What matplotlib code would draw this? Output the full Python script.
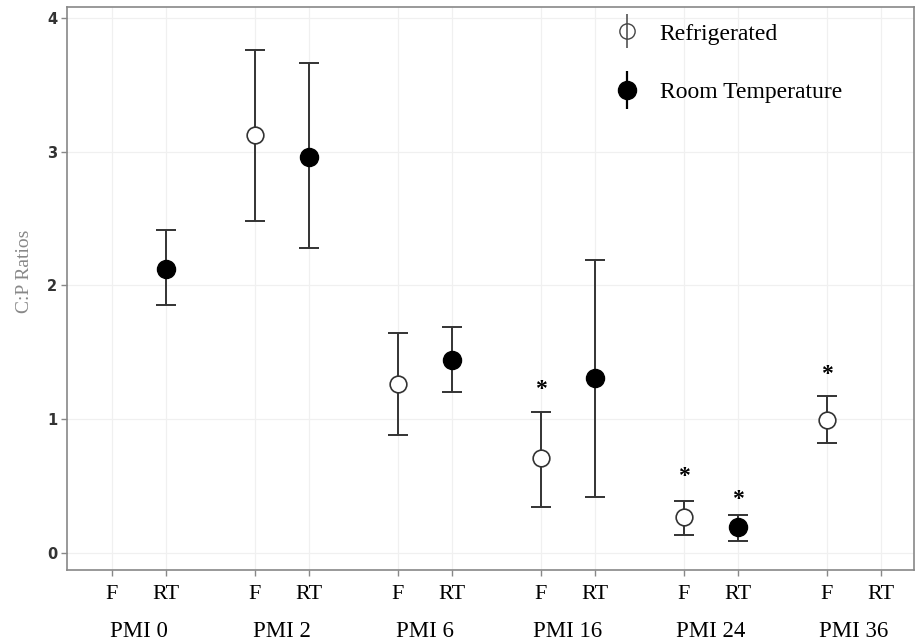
import numpy as np
import matplotlib
matplotlib.use('Agg')
from matplotlib import pyplot as plt
from matplotlib.lines import Line2D
from matplotlib.legend_handler import HandlerTuple

nan = np.nan

groups = ['PMI 0', 'PMI 2', 'PMI 6', 'PMI 16', 'PMI 24', 'PMI 36']
conds = ['F', 'RT']

# refrigerated (F)
f_mean = [nan, 3.12, 1.26, 0.71, 0.27, 0.99]
f_low = [nan, 2.48, 0.88, 0.34, 0.13, 0.82]
f_high = [nan, 3.76, 1.64, 1.05, 0.39, 1.17]
f_star = [nan, nan, nan, 1.22, 0.57, 1.33]

# room temperature (RT)
rt_mean = [2.12, 2.96, 1.44, 1.31, 0.19, nan]
rt_low = [1.85, 2.28, 1.20, 0.42, 0.09, nan]
rt_high = [2.41, 3.66, 1.69, 2.19, 0.28, nan]
rt_star = [nan, nan, nan, nan, 0.40, nan]

serif = 'Liberation Serif'
group_step = 2.66

fig = plt.figure(figsize=(9.15, 6.41), dpi=100)
ax = fig.add_axes([0.0732, 0.111, 0.9258, 0.878])

x_f = np.arange(len(groups)) * group_step
x_rt = x_f + 1

def draw(x, mean, low, high, filled):
    mean = np.array(mean)
    low = np.array(low)
    high = np.array(high)
    ok = ~np.isnan(mean)
    yerr = [mean[ok] - low[ok], high[ok] - mean[ok]]
    ax.errorbar(x[ok], mean[ok], yerr=yerr, fmt='none', ecolor='#333333',
                elinewidth=1.4, capsize=7.5, capthick=1.4, zorder=2)
    if filled:
        ax.plot(x[ok], mean[ok], 'o', color='black', ms=13, zorder=3)
    else:
        ax.plot(x[ok], mean[ok], 'o', mfc='white', mec='#333333', mew=1.2, ms=12, zorder=3)

draw(x_f, f_mean, f_low, f_high, False)
draw(x_rt, rt_mean, rt_low, rt_high, True)

for xs, stars in [(x_f, f_star), (x_rt, rt_star)]:
    for xv, sv in zip(xs, stars):
        if not np.isnan(sv):
            ax.text(xv, sv, '*', ha='center', va='center', fontsize=17,
                    fontweight='bold', color='black', family=serif)

ticks = np.ravel(np.column_stack([x_f, x_rt]))
ax.set_xticks(ticks)
ax.set_xticklabels(conds * len(groups), family=serif, fontsize=16, color='black')
for xv, g in zip(x_f + 0.5, groups):
    ax.text(xv, -0.11, g, transform=ax.get_xaxis_transform(), ha='center', va='center',
            family=serif, fontsize=16.5, color='black')

ax.set_xlim(-0.833, 5 * group_step + 1 + 0.62)
ax.set_ylim(-0.127, 4.08)
ax.set_yticks([0, 1, 2, 3, 4])
ax.set_yticklabels(['0', '1', '2', '3', '4'], fontsize=10.5, fontweight='bold', color='#333333')
ax.tick_params(axis='both', length=4, color='#888888', width=1)
ax.tick_params(axis='x', pad=7)
ax.tick_params(axis='y', pad=3)

ax.grid(True, color='#f0f0f0', linewidth=0.9)
ax.set_axisbelow(True)
for s in ax.spines.values():
    s.set_color('#888888')
    s.set_linewidth(1.2)

ax.set_ylabel('C:P Ratios', family=serif, fontsize=14, color='#888888')
ax.yaxis.set_label_coords(-0.04, 0.53)

# legend: vertical line through marker
h_f = (Line2D([], [], marker='|', ms=24, mew=1.1, color='#444444', ls='none'),
       Line2D([], [], marker='o', ms=11, mfc='none', mec='#444444', mew=1.0, ls='none'))
h_rt = (Line2D([], [], marker='|', ms=28, mew=1.6, color='black', ls='none'),
        Line2D([], [], marker='o', ms=13, color='black', ls='none'))
leg = ax.legend([h_f, h_rt], ['Refrigerated', 'Room Temperature'],
                handler_map={tuple: HandlerTuple(ndivide=1)},
                loc='upper left', bbox_to_anchor=(0.619, 1.009), frameon=False,
                prop={'family': serif, 'size': 17}, labelspacing=1.55,
                handlelength=1.2, handletextpad=0.8)

fig.savefig('out.png', dpi=100)
